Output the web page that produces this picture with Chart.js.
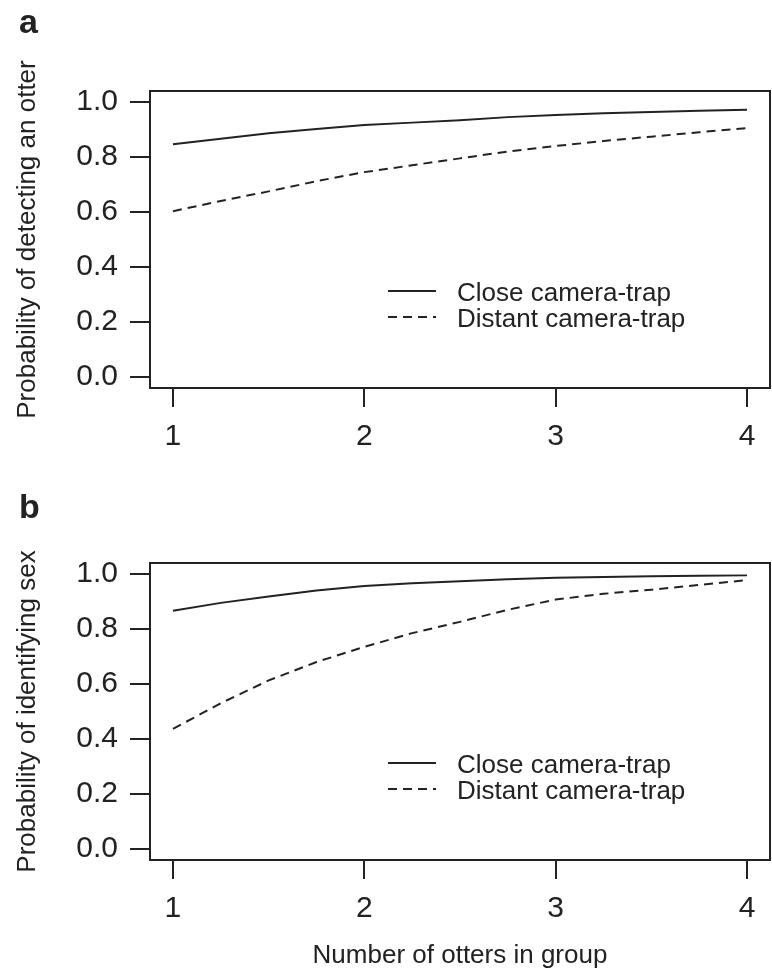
<!DOCTYPE html>
<html>
<head>
<meta charset="utf-8">
<script src="https://cdn.jsdelivr.net/npm/chart.js@4/dist/chart.umd.min.js"></script>
<style>
  body { margin: 0; background: #fff; }
  .panel { position: absolute; left: 0; }
</style>
</head>
<body>
<canvas id="chartA" class="panel" width="772" height="480" style="top:0"></canvas>
<canvas id="chartB" class="panel" width="772" height="499" style="top:480px"></canvas>
<script>
// data
const groupSize = [1, 1.25, 1.5, 1.75, 2, 2.25, 2.5, 2.75, 3, 3.25, 3.5, 3.75, 4];
const detectClose = [0.846, 0.866, 0.886, 0.902, 0.916, 0.925, 0.934, 0.945, 0.953, 0.959, 0.964, 0.968, 0.972];
const detectDistant = [0.603, 0.640, 0.675, 0.712, 0.745, 0.770, 0.795, 0.820, 0.840, 0.858, 0.874, 0.890, 0.905];
const sexClose = [0.866, 0.895, 0.918, 0.940, 0.956, 0.966, 0.974, 0.981, 0.986, 0.989, 0.992, 0.994, 0.995];
const sexDistant = [0.437, 0.530, 0.613, 0.680, 0.735, 0.785, 0.826, 0.870, 0.907, 0.928, 0.943, 0.960, 0.978];
const xTicks = [1, 2, 3, 4];
const yTicks = [0, 0.2, 0.4, 0.6, 0.8, 1.0];
const seriesLabels = ['Close camera-trap', 'Distant camera-trap'];

const FONT = '"Liberation Sans", Arial, sans-serif';
const INK = '#222';

function pts(ys) {
  return groupSize.map((x, i) => ({ x: x, y: ys[i] }));
}

// box, panel letter and legend
const decor = {
  id: 'decor',
  afterDraw(chart, args, opts) {
    const { ctx, chartArea: ca } = chart;
    ctx.save();
    ctx.strokeStyle = INK;
    ctx.lineWidth = 2;
    ctx.strokeRect(ca.left, ca.top, ca.right - ca.left, ca.bottom - ca.top);

    ctx.fillStyle = INK;
    ctx.font = 'bold 34px ' + FONT;
    ctx.textBaseline = 'alphabetic';
    ctx.textAlign = 'left';
    ctx.fillText(opts.letter, 19, opts.letterY);

    ctx.font = '26px ' + FONT;
    ctx.textBaseline = 'middle';
    chart.data.datasets.forEach((ds, i) => {
      const y = ca.bottom - 97 + i * 26;
      ctx.beginPath();
      ctx.setLineDash(ds.borderDash || []);
      ctx.lineWidth = 2;
      ctx.moveTo(ca.left + 238, y);
      ctx.lineTo(ca.left + 286, y);
      ctx.stroke();
      ctx.setLineDash([]);
      ctx.fillText(ds.label, ca.left + 307, y + 3);
    });
    ctx.restore();
  }
};

function makeChart(id, close, distant, yTitle, opt) {
  return new Chart(document.getElementById(id), {
    type: 'line',
    data: {
      datasets: [
        { label: seriesLabels[0], data: pts(close), borderColor: INK, borderWidth: 2, pointRadius: 0, tension: 0 },
        { label: seriesLabels[1], data: pts(distant), borderColor: INK, borderWidth: 2, pointRadius: 0, tension: 0, borderDash: [9, 6] }
      ]
    },
    options: {
      responsive: false,
      animation: false,
      devicePixelRatio: 1,
      layout: { padding: { left: 0, right: 2, top: opt.top, bottom: 0 } },
      plugins: {
        legend: { display: false },
        tooltip: { enabled: false },
        decor: { letter: opt.letter, letterY: opt.letterY }
      },
      scales: {
        x: {
          type: 'linear',
          min: 0.88,
          max: 4.12,
          afterBuildTicks: s => { s.ticks = xTicks.map(v => ({ value: v })); },
          afterFit: s => { s.height = opt.xHeight; },
          grid: { display: true, drawOnChartArea: false, drawTicks: true, tickLength: 19, color: INK, lineWidth: 2 },
          border: { display: false },
          ticks: { color: INK, font: { family: FONT, size: 30 }, padding: 12, maxRotation: 0 },
          title: {
            display: !!opt.xTitle,
            text: opt.xTitle || '',
            color: INK,
            font: { family: FONT, size: 26 },
            padding: { top: 0, bottom: 8 }
          }
        },
        y: {
          type: 'linear',
          min: -0.04,
          max: 1.04,
          afterBuildTicks: s => { s.ticks = yTicks.map(v => ({ value: v })); },
          afterFit: s => { s.width = 150; },
          grid: { display: true, drawOnChartArea: false, drawTicks: true, tickLength: 20, color: INK, lineWidth: 2 },
          border: { display: false },
          ticks: { color: INK, font: { family: FONT, size: 30 }, padding: 12, callback: v => v.toFixed(1) },
          title: {
            display: true,
            text: yTitle,
            color: INK,
            font: { family: FONT, size: 26 },
            padding: { top: 12, bottom: 0 }
          }
        }
      }
    },
    plugins: [decor]
  });
}

makeChart('chartA', detectClose, detectDistant, 'Probability of detecting an otter',
  { top: 91, xHeight: 92, letter: 'a', letterY: 33 });
makeChart('chartB', sexClose, sexDistant, 'Probability of identifying sex',
  { top: 83, xHeight: 119, letter: 'b', letterY: 38, xTitle: 'Number of otters in group' });
</script>
</body>
</html>
